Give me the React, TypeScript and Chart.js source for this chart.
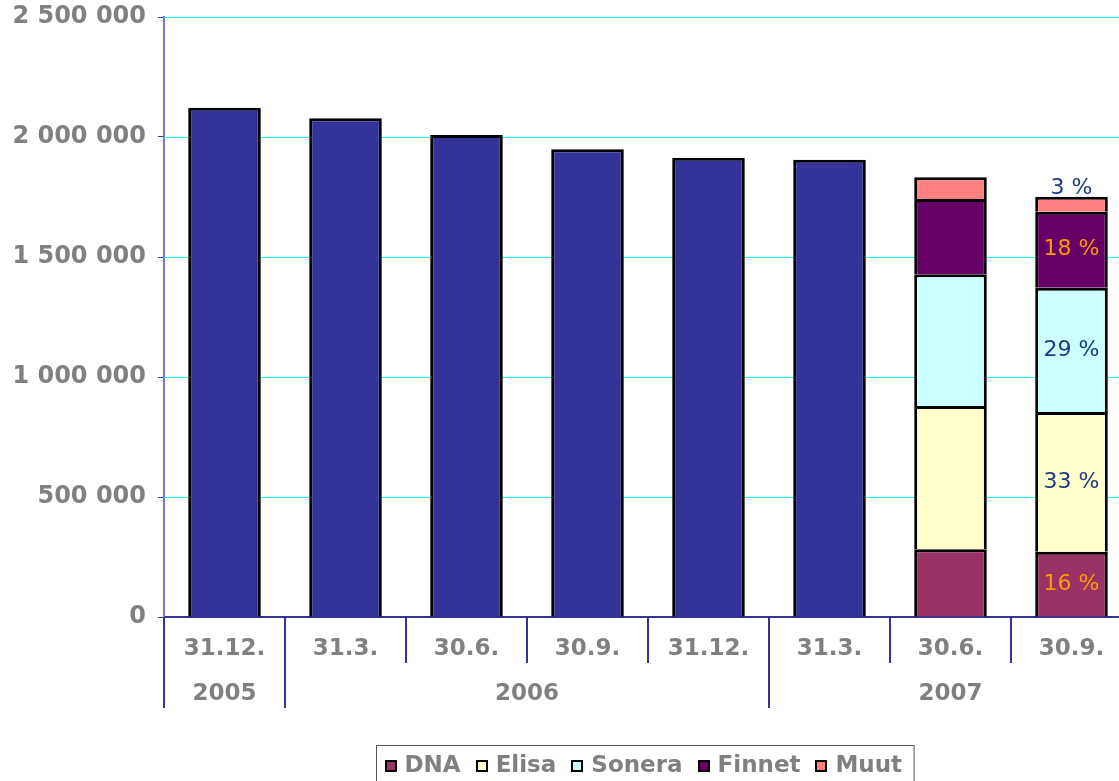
import React, { useEffect, useRef } from "react";
import { Chart, registerables } from "chart.js";

Chart.register(...registerables);

const categories = ["31.12.", "31.3.", "30.6.", "30.9.", "31.12.", "31.3.", "30.6.", "30.9."];
const yearLabels = ["2005", "2006", "2007"];
const yearSpans = [1, 4, 3];

const totalValues = [2122000, 2078000, 2008000, 1949000, 1914000, 1905000, null, null];
const dnaValues = [null, null, null, null, null, null, 282000, 272000];
const elisaValues = [null, null, null, null, null, null, 597000, 582000];
const soneraValues = [null, null, null, null, null, null, 549000, 518000];
const finnetValues = [null, null, null, null, null, null, 314000, 317000];
const muutValues = [null, null, null, null, null, null, 90000, 62000];

const operatorNames = ["DNA", "Elisa", "Sonera", "Finnet", "Muut"];
const operatorColors = ["#993366", "#FFFFCC", "#CCFFFF", "#660066", "#FF8080"];
const shareLabels = ["16 %", "33 %", "29 %", "18 %", "3 %"];
const shareColors = ["#FF9900", "#1C3A84", "#1C3A84", "#FF9900", "#1C3A84"];
const shareAbove = [false, false, false, false, true];

const yMin = 0;
const yMax = 2500000;
const yStep = 500000;

const FONT = "'DejaVu Sans', Verdana, sans-serif";
const GRAY = "#808080";
const AXIS = "#333399";
const GRID = "#00FFFF";

const fmt = (v: number) => String(v).replace(/\B(?=(\d{3})+(?!\d))/g, " ");

const gridPlugin = {
  id: "cyanGrid",
  beforeDatasetsDraw(chart: any) {
    const { ctx, chartArea } = chart;
    const yScale = chart.scales.y;
    ctx.save();
    ctx.strokeStyle = GRID;
    ctx.lineWidth = 1;
    yScale.ticks.forEach((t: any) => {
      if (t.value === yMin) return;
      const y = Math.round(yScale.getPixelForValue(t.value)) + 0.5;
      ctx.beginPath();
      ctx.moveTo(chartArea.left, y);
      ctx.lineTo(chartArea.right, y);
      ctx.stroke();
    });
    ctx.restore();
  },
};

const decorPlugin = {
  id: "decor",
  afterDraw(chart: any) {
    const { ctx, chartArea } = chart;
    const { left, right, bottom } = chartArea;
    const n = categories.length;
    const step = (right - left) / n;

    const groupEdges = new Set<number>([0]);
    let acc = 0;
    yearSpans.forEach((s) => {
      acc += s;
      groupEdges.add(acc);
    });

    ctx.save();
    ctx.strokeStyle = AXIS;
    ctx.lineWidth = 2;
    for (let i = 0; i <= n; i++) {
      const x = Math.round(left + i * step);
      const len = groupEdges.has(i) ? 91 : 46;
      ctx.beginPath();
      ctx.moveTo(x, bottom);
      ctx.lineTo(x, bottom + len);
      ctx.stroke();
    }

    ctx.fillStyle = GRAY;
    ctx.font = `bold 23px ${FONT}`;
    ctx.textAlign = "center";
    ctx.textBaseline = "middle";
    let start = 0;
    yearLabels.forEach((lab, gi) => {
      const span = yearSpans[gi];
      const cx = left + (start + span / 2) * step;
      ctx.fillText(lab, cx, bottom + 77);
      start += span;
    });

    const lastIdx = n - 1;
    ctx.font = `22px ${FONT}`;
    for (let k = 0; k < operatorNames.length; k++) {
      const meta = chart.getDatasetMeta(k + 1);
      const el = meta.data[lastIdx];
      if (!el) continue;
      ctx.fillStyle = shareColors[k];
      if (shareAbove[k]) {
        ctx.textBaseline = "alphabetic";
        ctx.fillText(shareLabels[k], el.x, el.y - 3);
      } else {
        ctx.textBaseline = "middle";
        ctx.fillText(shareLabels[k], el.x, (el.y + el.base) / 2);
      }
    }

    ctx.font = `bold 23px ${FONT}`;
    const items = chart.data.datasets.slice(1).map((d: any) => ({
      label: d.label,
      color: d.backgroundColor,
      w: ctx.measureText(d.label).width,
    }));
    const box = 12;
    const gapMT = 8;
    const gapItem = 15;
    const padL = 8;
    const padR = 12;
    let total = padL + padR;
    items.forEach((it: any, i: number) => {
      total += box + gapMT + it.w + (i > 0 ? gapItem : 0);
    });
    const cxLegend = (left + right) / 2 - 3;
    const bx = Math.round(cxLegend - total / 2) + 0.5;
    const by = 745.5;
    ctx.strokeStyle = "#555555";
    ctx.lineWidth = 1;
    ctx.strokeRect(bx, by, total, 60);
    const cy = 766;
    let x = bx + padL;
    items.forEach((it: any, i: number) => {
      if (i > 0) x += gapItem;
      ctx.fillStyle = it.color;
      ctx.fillRect(Math.round(x), cy - 6, box, box);
      ctx.strokeStyle = "#000000";
      ctx.lineWidth = 2;
      ctx.strokeRect(Math.round(x) + 1, cy - 5, box - 2, box - 2);
      x += box + gapMT;
      ctx.fillStyle = GRAY;
      ctx.textAlign = "left";
      ctx.textBaseline = "middle";
      ctx.fillText(it.label, x, cy);
      x += it.w;
    });
    ctx.restore();
  },
};

export default function App() {
  const ref = useRef<HTMLCanvasElement | null>(null);

  useEffect(() => {
    if (!ref.current) return;
    const datasets: any[] = [
      {
        label: "Yhteensä",
        data: totalValues,
        backgroundColor: "#333399",
        borderColor: "#000000",
        borderWidth: 3,
      },
    ];
    const opData = [dnaValues, elisaValues, soneraValues, finnetValues, muutValues];
    operatorNames.forEach((name, i) => {
      datasets.push({
        label: name,
        data: opData[i],
        backgroundColor: operatorColors[i],
        borderColor: "#000000",
        borderWidth: 3,
      });
    });

    const chart = new Chart(ref.current, {
      type: "bar",
      data: { labels: categories, datasets },
      options: {
        responsive: false,
        animation: false,
        devicePixelRatio: 1,
        datasets: { bar: { barPercentage: 0.6, categoryPercentage: 1 } },
        layout: { padding: { top: 17, right: 8, bottom: 64, left: 0 } },
        plugins: {
          legend: { display: false },
          tooltip: { enabled: false },
          title: { display: false },
        },
        scales: {
          x: {
            stacked: true,
            offset: true,
            grid: { display: true, drawOnChartArea: false, drawTicks: false },
            border: { display: true, color: AXIS, width: 2 },
            ticks: {
              color: GRAY,
              font: { family: FONT, size: 23, weight: "bold" },
              padding: 18,
              maxRotation: 0,
              autoSkip: false,
            },
            afterFit: (scale: any) => {
              scale.height = 100;
            },
          },
          y: {
            stacked: true,
            min: yMin,
            max: yMax,
            grid: {
              display: true,
              drawOnChartArea: false,
              tickColor: AXIS,
              tickLength: 6,
              drawTicks: true,
            },
            border: { display: true, color: "#7878CC", width: 2 },
            ticks: {
              stepSize: yStep,
              color: GRAY,
              font: { family: FONT, size: 24, weight: "bold" },
              padding: 12,
              callback: (v: any) => fmt(Number(v)),
            },
            afterFit: (scale: any) => {
              scale.width = 164;
              scale.paddingTop = 0;
              scale.paddingBottom = 0;
            },
          },
        },
      },
      plugins: [gridPlugin, decorPlugin],
    });
    return () => chart.destroy();
  }, []);

  return (
    <div
      style={{
        position: "fixed",
        left: 0,
        top: 0,
        width: "100vw",
        height: "100vh",
        overflow: "hidden",
        background: "#ffffff",
      }}
    >
      <canvas ref={ref} width={1140} height={781} style={{ display: "block" }} />
    </div>
  );
}
